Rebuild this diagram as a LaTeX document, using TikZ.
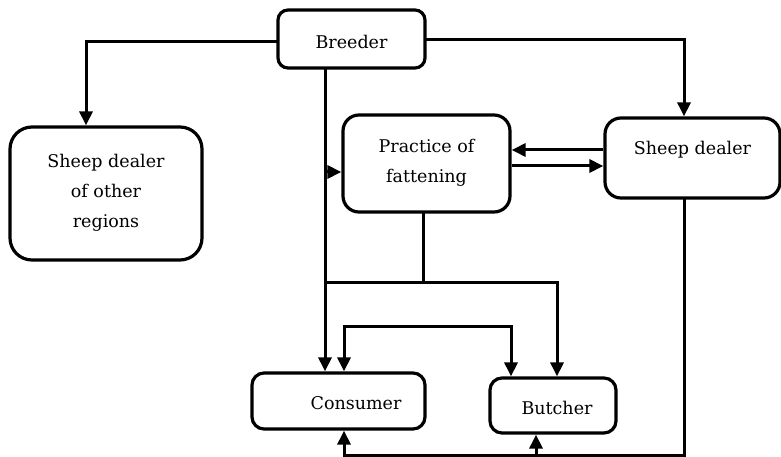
\documentclass[tikz,border=0pt]{standalone}
\usepackage{fontspec}
\setmainfont{DejaVu Serif}
\usetikzlibrary{arrows.meta}
\begin{document}
\begin{tikzpicture}[x=1pt,y=-1pt,
  box/.style={draw=black,line width=3.2pt,rounded corners=#1,inner sep=0pt,fill=white},
  box/.default=12pt,
  txt/.style={font=\fontsize{17.5}{30}\selectfont,align=center,text=black},
  flow/.style={line width=3pt,-{Triangle[length=14pt,width=13pt]}},
  both/.style={line width=3pt,{Triangle[length=14pt,width=13pt]}-{Triangle[length=14pt,width=13pt]}},
  plain/.style={line width=3pt}]
\useasboundingbox (0,0) rectangle (781,457);
% boxes
\node[box=10pt,minimum width=147pt,minimum height=58pt] (breeder) at (351.5,39) {};
\node[txt] (breedert) at (351.5,42) {Breeder};
\node[box=22pt,minimum width=192pt,minimum height=133pt] (other) at (106,193.5) {};
\node[txt] (othert) at (106,193) {Sheep dealer\\of other\\regions};
\node[box=16pt,minimum width=167pt,minimum height=97pt] (pract) at (426.5,163.5) {};
\node[txt] (practt) at (426.5,163) {Practice of\\fattening};
\node[box=16pt,minimum width=175pt,minimum height=80pt] (sd) at (692.5,158) {};
\node[txt] (sdt) at (692.5,150) {Sheep dealer};
\node[box=12pt,minimum width=173pt,minimum height=56pt] (cons) at (338.5,401) {};
\node[txt] (const) at (356,403) {Consumer};
\node[box=12pt,minimum width=126pt,minimum height=55pt] (butch) at (553,405.5) {};
\node[txt] (butcht) at (557,408) {Butcher};
% helper coordinates
\coordinate (bl) at (278,42);
\coordinate (br) at (425,40);
\coordinate (bv) at (325,68);
\coordinate (bvp) at (325,172);
\coordinate (yup) at (0,150);
\coordinate (ydn) at (0,166);
\coordinate (pb) at (423,212);
\coordinate (pj) at (423,282);
\coordinate (pjl) at (325,282);
\coordinate (cbl) at (344,326);
\coordinate (cbr) at (511,326);
\coordinate (sdb) at (684,198);
\coordinate (bot) at (684,455);
\coordinate (cbj) at (536,455);
% connectors
\draw[flow] (bl) -| ([xshift=-20pt]other.north);
\draw[flow] (br) -| ([xshift=-8.5pt]sd.north);
\draw[flow] (bv) -- (bv |- cons.north);
\draw[flow] (bvp) -- (bvp -| pract.west);
\draw[flow] (sd.west |- yup) -- (pract.east |- yup);
\draw[flow] (pract.east |- ydn) -- (sd.west |- ydn);
\draw[plain] (pb) -- (pj);
\draw[flow] (pjl) -| ([xshift=4pt]butch.north);
\draw[both] (cbl |- cons.north) -- (cbl) -- (cbr) -- (cbr |- butch.north);
\draw[flow] (sdb) |- (bot) -| (cbl |- cons.south);
\draw[flow] (cbj) -- (cbj |- butch.south);
\end{tikzpicture}
\end{document}
